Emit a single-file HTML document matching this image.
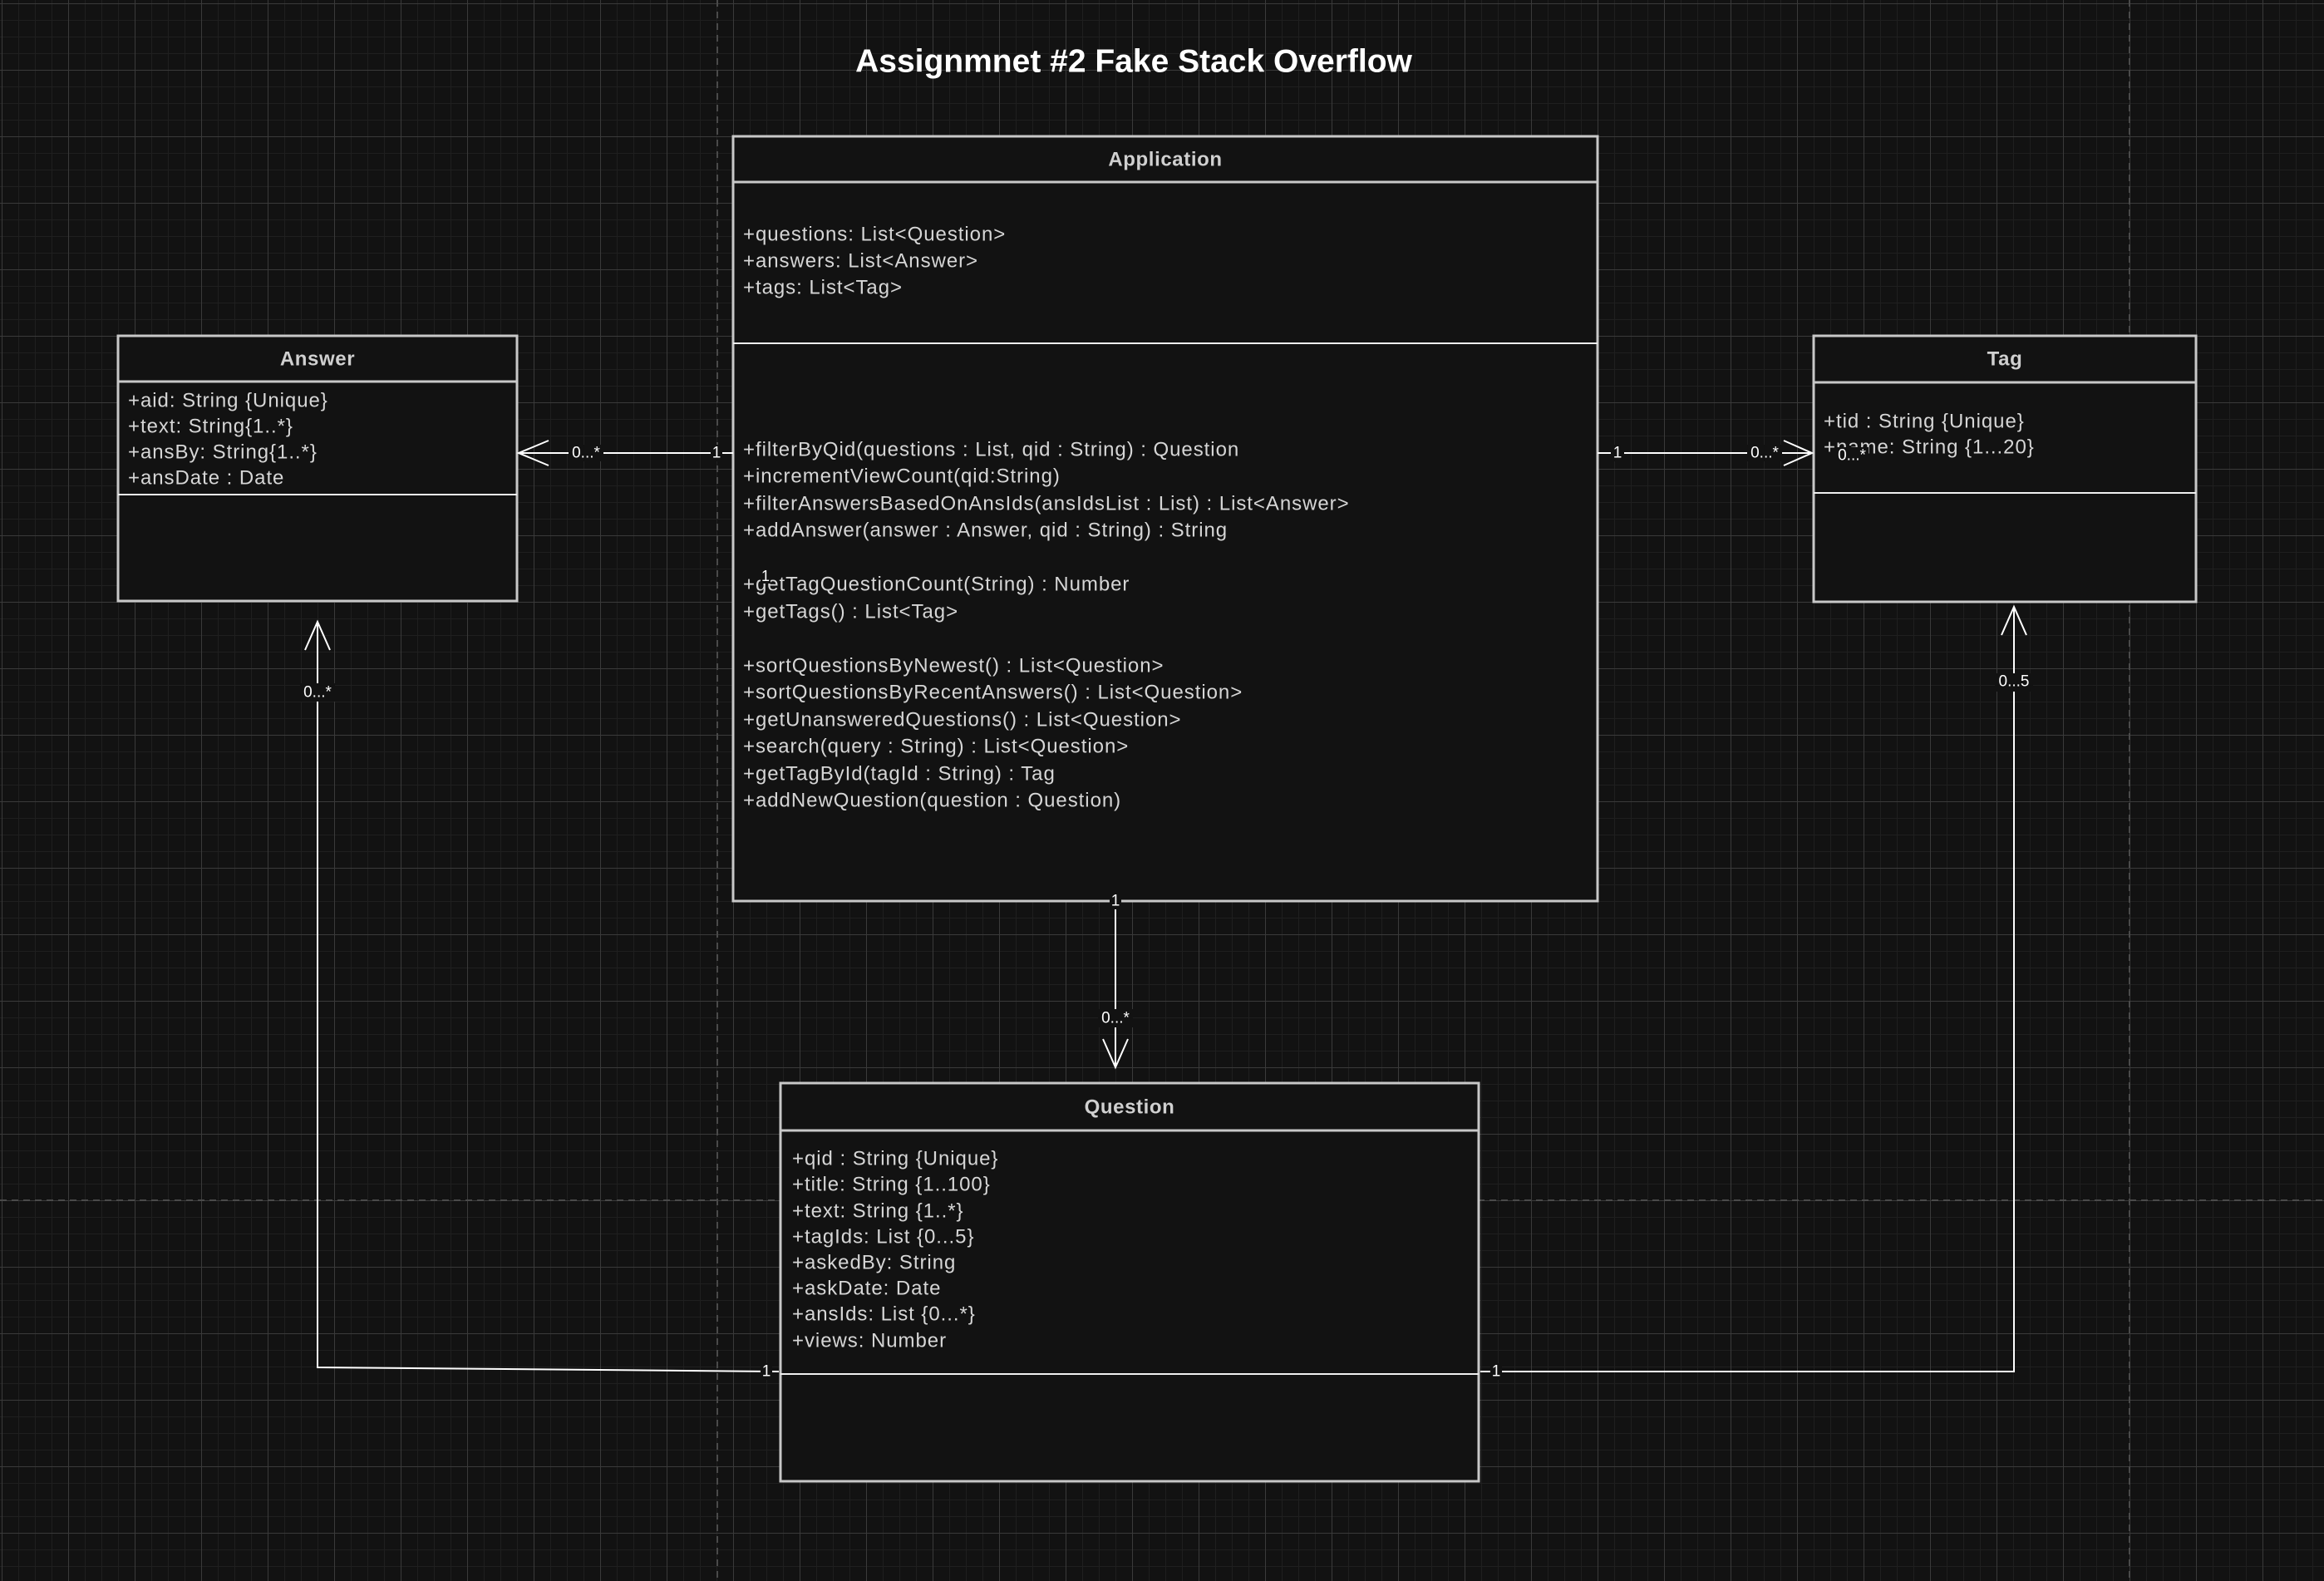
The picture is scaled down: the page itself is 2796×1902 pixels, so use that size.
<!DOCTYPE html>
<html><head><meta charset="utf-8"><style>
html,body{margin:0;padding:0;background:#121212;}
svg{display:block;}
text{font-family:"Liberation Sans",Arial,sans-serif;}
.t{letter-spacing:0.95px;}
</style></head><body>
<svg width="2796" height="1902" viewBox="0 0 2796 1902" xmlns="http://www.w3.org/2000/svg">
<defs>
<pattern id="minor" x="2" y="4" width="20" height="20" patternUnits="userSpaceOnUse">
<path d="M0 0H20M0 0V20" stroke="#1f1f1f" stroke-width="2" fill="none"/>
</pattern>
<pattern id="major" x="2" y="4" width="80" height="80" patternUnits="userSpaceOnUse">
<path d="M0 0.5H80M0.5 0V80" stroke="#3a3a3a" stroke-width="1" fill="none"/>
</pattern>
</defs>
<rect width="2796" height="1902" fill="#121212"/>
<rect width="2796" height="1902" fill="url(#minor)"/>
<rect width="2796" height="1902" fill="url(#major)"/>
<g stroke="#4a4a4a" stroke-width="2" stroke-dasharray="8 6">
<line x1="863" y1="0" x2="863" y2="1902"/>
<line x1="2562" y1="0" x2="2562" y2="1902"/>
<line x1="0" y1="1444" x2="2796" y2="1444"/>
</g>

<text x="1364" y="74" font-size="39" font-weight="bold" fill="#ffffff" text-anchor="middle" dominant-baseline="central">Assignmnet #2 Fake Stack Overflow</text>

<!-- Application -->
<g>
<rect x="882" y="164" width="1040" height="920" fill="#121212" stroke="#c8c8c8" stroke-width="3"/>
<line x1="882" y1="219" x2="1922" y2="219" stroke="#c8c8c8" stroke-width="3"/>
<line x1="882" y1="413" x2="1922" y2="413" stroke="#f0f0f0" stroke-width="2"/>
<text x="1402" y="192" font-size="24" font-weight="bold" fill="#d0d0d0" text-anchor="middle" dominant-baseline="central" letter-spacing="0.6">Application</text>
<g font-size="24" fill="#d6d6d6" dominant-baseline="central" class="t">
<text x="894" y="282">+questions: List&lt;Question&gt;</text>
<text x="894" y="314">+answers: List&lt;Answer&gt;</text>
<text x="894" y="346">+tags: List&lt;Tag&gt;</text>
<text x="894" y="541">+filterByQid(questions : List, qid : String) : Question</text>
<text x="894" y="573">+incrementViewCount(qid:String)</text>
<text x="894" y="606">+filterAnswersBasedOnAnsIds(ansIdsList : List) : List&lt;Answer&gt;</text>
<text x="894" y="638">+addAnswer(answer : Answer, qid : String) : String</text>
<text x="894" y="703">+getTagQuestionCount(String) : Number</text>
<text x="894" y="736">+getTags() : List&lt;Tag&gt;</text>
<text x="894" y="801">+sortQuestionsByNewest() : List&lt;Question&gt;</text>
<text x="894" y="833">+sortQuestionsByRecentAnswers() : List&lt;Question&gt;</text>
<text x="894" y="866">+getUnansweredQuestions() : List&lt;Question&gt;</text>
<text x="894" y="898">+search(query : String) : List&lt;Question&gt;</text>
<text x="894" y="931">+getTagById(tagId : String) : Tag</text>
<text x="894" y="963">+addNewQuestion(question : Question)</text>
</g>
<rect x="915" y="684" width="12" height="18" fill="#121212"/>
<text x="921" y="693" font-size="18" fill="#ffffff" text-anchor="middle" dominant-baseline="central">1</text>
</g>

<!-- Answer -->
<g>
<rect x="142" y="404" width="480" height="319" fill="#121212" stroke="#c8c8c8" stroke-width="3"/>
<line x1="142" y1="459" x2="622" y2="459" stroke="#c8c8c8" stroke-width="3"/>
<line x1="142" y1="595" x2="622" y2="595" stroke="#f0f0f0" stroke-width="2"/>
<text x="382" y="432" font-size="24" font-weight="bold" fill="#d0d0d0" text-anchor="middle" dominant-baseline="central" letter-spacing="0.6">Answer</text>
<g font-size="24" fill="#d6d6d6" dominant-baseline="central" class="t">
<text x="154" y="482">+aid: String {Unique}</text>
<text x="154" y="513">+text: String{1..*}</text>
<text x="154" y="544">+ansBy: String{1..*}</text>
<text x="154" y="575">+ansDate : Date</text>
</g>
</g>

<!-- Tag -->
<g>
<rect x="2182" y="404" width="460" height="320" fill="#121212" stroke="#c8c8c8" stroke-width="3"/>
<line x1="2182" y1="460" x2="2642" y2="460" stroke="#c8c8c8" stroke-width="3"/>
<line x1="2182" y1="593" x2="2642" y2="593" stroke="#f0f0f0" stroke-width="2"/>
<text x="2412" y="432" font-size="24" font-weight="bold" fill="#d0d0d0" text-anchor="middle" dominant-baseline="central" letter-spacing="0.6">Tag</text>
<g font-size="24" fill="#d6d6d6" dominant-baseline="central" class="t">
<text x="2194" y="507">+tid : String {Unique}</text>
<text x="2194" y="538">+name: String {1...20}</text>
</g>
</g>

<!-- Question -->
<g>
<rect x="939" y="1303" width="840" height="479" fill="#121212" stroke="#c8c8c8" stroke-width="3"/>
<line x1="939" y1="1360" x2="1779" y2="1360" stroke="#c8c8c8" stroke-width="3"/>
<line x1="939" y1="1653" x2="1779" y2="1653" stroke="#f0f0f0" stroke-width="2"/>
<text x="1359" y="1332" font-size="24" font-weight="bold" fill="#d0d0d0" text-anchor="middle" dominant-baseline="central" letter-spacing="0.6">Question</text>
<g font-size="24" fill="#d6d6d6" dominant-baseline="central" class="t">
<text x="953" y="1394">+qid : String {Unique}</text>
<text x="953" y="1425">+title: String {1..100}</text>
<text x="953" y="1457">+text: String {1..*}</text>
<text x="953" y="1488">+tagIds: List {0...5}</text>
<text x="953" y="1519">+askedBy: String</text>
<text x="953" y="1550">+askDate: Date</text>
<text x="953" y="1581">+ansIds: List {0...*}</text>
<text x="953" y="1613">+views: Number</text>
</g>
</g>

<!-- connectors -->
<g stroke="#ffffff" stroke-width="2" fill="none">
<line x1="882" y1="545" x2="624" y2="545"/>
<polyline points="660,530 624,545 660,560"/>
<line x1="1922" y1="545" x2="2180" y2="545"/>
<polyline points="2146,530 2180,545 2146,560"/>
<line x1="1342" y1="1084" x2="1342" y2="1284"/>
<polyline points="1327,1250 1342,1284 1357,1250"/>
<polyline points="937,1650 382,1645 382,748"/>
<polyline points="367,782 382,748 397,782"/>
<polyline points="1781,1650 2423,1650 2423,730"/>
<polyline points="2408,764 2423,730 2438,764"/>
</g>
<g font-size="19" fill="#ffffff" text-anchor="middle" dominant-baseline="central">
<rect x="684" y="535" width="42" height="20" fill="#121212"/><text x="705" y="545">0...*</text>
<rect x="855" y="535" width="14" height="20" fill="#121212"/><text x="862" y="545">1</text>
<rect x="1938" y="535" width="16" height="20" fill="#121212"/><text x="1946" y="545">1</text>
<rect x="2102" y="535" width="42" height="20" fill="#121212"/><text x="2123" y="545">0...*</text>
<rect x="2208" y="538" width="40" height="20" fill="#121212"/><text x="2228" y="548">0...*</text>
<rect x="1335" y="1074" width="14" height="20" fill="#121212"/><text x="1342" y="1084">1</text>
<rect x="1321" y="1214" width="42" height="22" fill="#121212"/><text x="1342" y="1225">0...*</text>
<rect x="361" y="822" width="42" height="22" fill="#121212"/><text x="382" y="833">0...*</text>
<rect x="2400" y="810" width="46" height="22" fill="#121212"/><text x="2423" y="820">0...5</text>
<rect x="915" y="1640" width="14" height="20" fill="#121212"/><text x="922" y="1650">1</text>
<rect x="1793" y="1640" width="14" height="20" fill="#121212"/><text x="1800" y="1650">1</text>
</g>
</svg>
</body></html>
